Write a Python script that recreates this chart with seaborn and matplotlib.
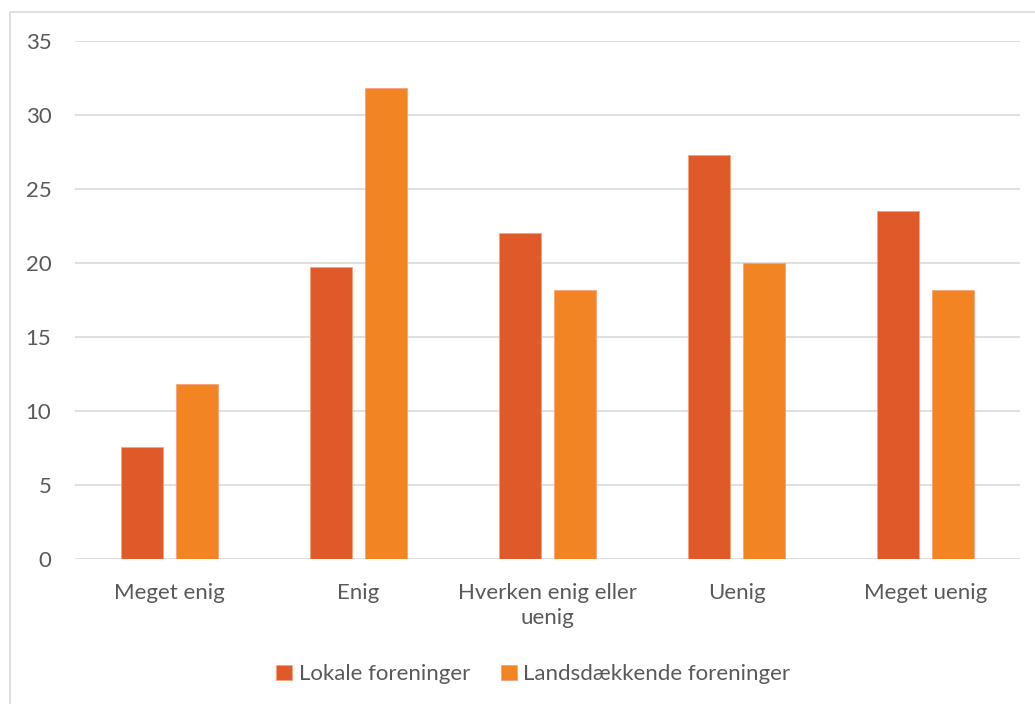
import pandas as pd
import matplotlib.pyplot as plt
import seaborn as sns
from matplotlib.patches import Rectangle

categories = ["Meget enig", "Enig", "Hverken enig eller\nuenig", "Uenig", "Meget uenig"]
lokale = [7.6, 19.7, 22.0, 27.3, 23.5]
landsdaekkende = [11.8, 31.8, 18.2, 20.0, 18.2]
series_names = ["Lokale foreninger", "Landsdækkende foreninger"]
colors = ["#DF5A28", "#F38423"]

df = pd.DataFrame({
    "kategori": categories * 2,
    "serie": [series_names[0]] * 5 + [series_names[1]] * 5,
    "procent": lokale + landsdaekkende,
})

sns.set_theme(style="white")
plt.rcParams["font.family"] = ["Lato", "DejaVu Sans"]

fig = plt.figure(figsize=(10.35, 7.04), dpi=100)
ax = fig.add_axes([75 / 1035, 1 - 559 / 704, 945 / 1035, 518 / 704])

sns.barplot(data=df, x="kategori", y="procent", hue="serie", palette=colors,
            saturation=1, width=0.58, gap=0.22, ax=ax, edgecolor="#F7A27A",
            linewidth=0.6, zorder=3)

ax.set_ylim(0, 35)
ax.set_xlim(-0.5, 4.5)
ax.set_yticks(range(0, 36, 5))
ax.yaxis.grid(True, color="#D9D9D9", linewidth=1.2, zorder=0)
ax.set_axisbelow(True)
for s in ax.spines.values():
    s.set_visible(False)
ax.set_xlabel("")
ax.set_ylabel("")
ax.tick_params(axis="both", length=0, labelsize=16, colors="#595959")
ax.tick_params(axis="y", pad=17)
ax.tick_params(axis="x", pad=17)
for lbl in ax.get_xticklabels():
    lbl.set_linespacing(1.35)

leg = ax.legend(loc="upper center", bbox_to_anchor=(0.485, -0.165), ncol=2,
                frameon=False, fontsize=16, handlelength=0.7, handleheight=0.7,
                handletextpad=0.3, columnspacing=1.4)
for t in leg.get_texts():
    t.set_color("#595959")

# chart border (cropped)
fig.patches.append(Rectangle((10 / 1035, -0.1), 1.2, 1 - 12 / 704 + 0.1,
                             transform=fig.transFigure, fill=False,
                             edgecolor="#D9D9D9", linewidth=1.2))

fig.savefig("out.png", dpi=100)
